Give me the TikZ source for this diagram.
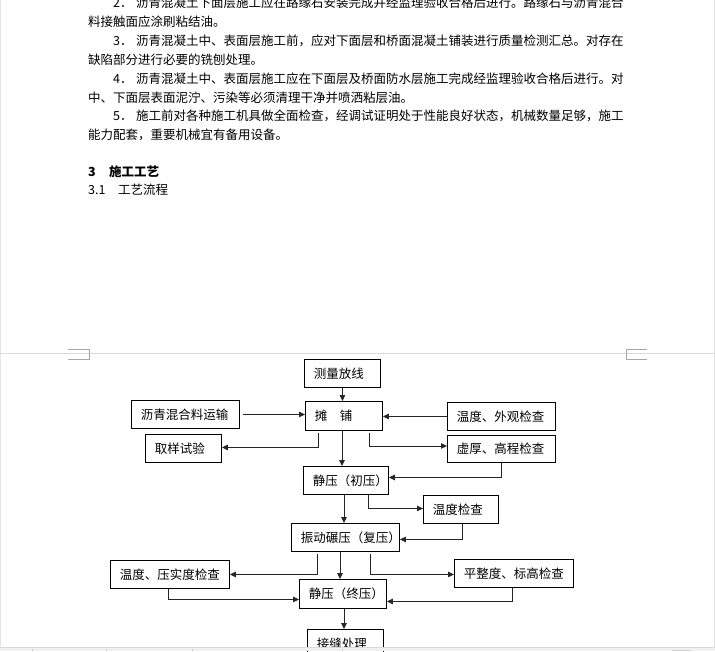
\documentclass[tikz,border=0pt]{standalone}
\usepackage{fontspec}
\setmainfont{Noto Sans CJK SC}
\usetikzlibrary{arrows.meta,calc}
\tikzset{
  para/.style={anchor=base west, inner sep=0pt, font=\fontsize{12.5pt}{15pt}\selectfont},
  flowbox/.style={draw=black, line width=0.9pt, anchor=north west, inner xsep=9.5pt, inner ysep=0pt,
    align=left, font=\fontsize{12.5pt}{15pt}\selectfont, fill=white},
  arr/.style={draw=black!85, line width=0.9pt, -{Triangle[length=6pt,width=5.5pt]}},
  brk/.style={draw=black!35, line width=0.7pt}
}
\begin{document}
\begin{tikzpicture}[x=1pt,y=-1pt]
\useasboundingbox (0,0) rectangle (715,651);
\fill[white] (0,0) rectangle (715,651);
% faint window edges
\draw[black!10, line width=1pt] (0.5,0) -- (0.5,647);
\draw[black!12, line width=1pt] (714,0) -- (714,647);
% paragraph text
\node[para] (l1) at (88,7.5) {\hspace*{25pt}\makebox[23pt][l]{2．}沥青混凝土下面层施工应在路缘石安装完成并经监理验收合格后进行。路缘石与沥青混合};
\node[para] (l2) at (88,26.4) {料接触面应涂刷粘结油。};
\node[para] (l3) at (88,45.3) {\hspace*{25pt}\makebox[23pt][l]{3．}沥青混凝土中、表面层施工前，应对下面层和桥面混凝土铺装进行质量检测汇总。对存在};
\node[para] (l4) at (88,64.2) {缺陷部分进行必要的铣刨处理。};
\node[para] (l5) at (88,83.1) {\hspace*{25pt}\makebox[23pt][l]{4．}沥青混凝土中、表面层施工应在下面层及桥面防水层施工完成经监理验收合格后进行。对};
\node[para] (l6) at (88,102) {中、下面层表面泥泞、污染等必须清理干净并喷洒粘层油。};
\node[para] (l7) at (88,120.9) {\hspace*{25pt}\makebox[23pt][l]{5．}施工前对各种施工机具做全面检查，经调试证明处于性能良好状态，机械数量足够，施工};
\node[para] (l8) at (88,139.8) {能力配套，重要机械宜有备用设备。};
\node[para, font=\fontsize{12.5pt}{15pt}\selectfont\bfseries] (h3) at (88,176.8) {\makebox[21pt][l]{3}施工工艺};
\node[para] (h31) at (88,194.3) {\makebox[30pt][l]{3.1}工艺流程};
% page break
\draw[black!14, line width=1.6pt] (0,353.5) -- (715,353.5);
\draw[brk] (68,349.5) -- (89,349.5) -- (89,359.5) -- (68,359.5);
\draw[brk] (647,349.5) -- (626,349.5) -- (626,359.5) -- (647,359.5);
% flowchart boxes
\node[flowbox, text width=57pt, minimum height=28pt] (celiang) at (304,359) {测量放线};
\node[flowbox, text width=58pt, minimum height=29pt] (tanpu) at (305,401) {摊　铺};
\node[flowbox, text width=89pt, minimum height=28pt] (yunshu) at (131,400) {沥青混合料运输};
\node[flowbox, text width=89pt, minimum height=28pt] (waiguan) at (447,402) {温度、外观检查};
\node[flowbox, text width=57pt, minimum height=28pt] (quyang) at (145,434) {取样试验};
\node[flowbox, text width=89pt, minimum height=27pt] (xuhou) at (447,435) {虚厚、高程检查};
\node[flowbox, text width=66pt, minimum height=28pt] (chuya) at (303,466) {静压（初压）};
\node[flowbox, text width=56pt, minimum height=28pt] (wendu) at (423,495) {温度检查};
\node[flowbox, text width=89pt, minimum height=28pt] (fuya) at (291,523) {振动碾压（复压）};
\node[flowbox, text width=100pt, minimum height=28pt] (yashi) at (110,560) {温度、压实度检查};
\node[flowbox, text width=100pt, minimum height=28pt] (pingzheng) at (454,559) {平整度、标高检查};
\node[flowbox, text width=68pt, minimum height=29pt] (zhongya) at (299,579) {静压（终压）};
\node[flowbox, text width=57pt, minimum height=28pt] (jiefeng) at (307,629) {接缝处理};
% connectors
\draw[arr] (celiang.south) -- (celiang.south |- tanpu.north);
\draw[arr] ([xshift=3pt]yunshu.east) -- (yunshu.east -| tanpu.west);
\draw[arr] (waiguan.west) -- (waiguan.west -| tanpu.east);
\draw[arr] ($(tanpu.south west)+(13,2)$) |- ($(quyang.east)+(0,-1)$);
\draw[arr] ($(tanpu.south west)+(64,2)$) |- ($(xuhou.west)+(0,-3)$);
\draw[arr] ($(tanpu.south west)+(37,0)$) coordinate (t1) -- (t1 |- chuya.north);
\draw[arr] (xuhou.south) |- ($(chuya.east)+(0,-3)$);
\draw[arr] ($(chuya.south west)+(41,0)$) coordinate (c1) -- (c1 |- fuya.north);
\draw[arr] ($(chuya.south west)+(65,0)$) |- ($(wendu.west)+(0,-1)$);
\draw[arr] ($(wendu.south west)+(39,0)$) |- ($(fuya.east)+(0,2)$);
\draw[arr] ($(fuya.south west)+(49,0)$) coordinate (f1) -- (f1 |- zhongya.north);
\draw[arr] ($(fuya.south west)+(26,2)$) |- (yashi.east);
\draw[arr] ($(fuya.south west)+(79,2)$) |- ($(pingzheng.west)+(0,1)$);
\draw[arr] ($(yashi.south west)+(58,0)$) |- ($(zhongya.west)+(0,5.5)$);
\draw[arr] ($(pingzheng.south west)+(58,0)$) |- ($(zhongya.east)+(0,7.5)$);
\draw[arr] ($(zhongya.south west)+(45,0)$) coordinate (z1) -- (z1 |- jiefeng.north);
% status bar
\fill[black!6] (0,647) rectangle (715,651);
\draw[black!15, line width=0.8pt] (0,647) -- (715,647);
\foreach \xx in {32,106,192,342} \draw[black!20, line width=0.6pt] (\xx,648.5) -- (\xx,651);
\fill[black!18] (672,649.5) rectangle (691,651);
\end{tikzpicture}
\end{document}
